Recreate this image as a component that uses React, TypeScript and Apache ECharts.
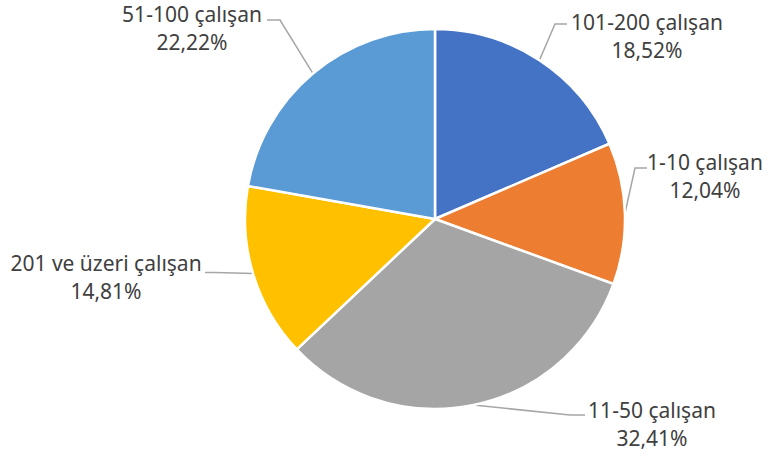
import React, { useEffect, useRef } from "react";
import * as echarts from "echarts";

const categories = ["101-200 çalışan", "1-10 çalışan", "11-50 çalışan", "201 ve üzeri çalışan", "51-100 çalışan"];
const values = [20, 13, 35, 16, 24];
const colors = ["#4472C4", "#ED7D31", "#A5A5A5", "#FFC000", "#5B9BD5"];

// label layout (block centres) and leader line bends, in px
const labelCenters = [
  [647, 36],
  [705, 176],
  [652, 424],
  [106, 277],
  [192, 28],
];
const leaderBends = [
  [[555, 24], [567, 24]],
  [[635, 168], [647, 168]],
  [[570, 415], [585, 415]],
  [[215, 272.5], [205, 272.5]],
  [[280, 20], [267, 20]],
];

const CX = 435;
const CY = 219;
const R = 190;

export default function App() {
  const ref = useRef<HTMLDivElement>(null);
  useEffect(() => {
    document.body.style.margin = "0";
    if (!ref.current) return;
    const chart = echarts.init(ref.current, null, { renderer: "svg" });
    const total = values.reduce((a, b) => a + b, 0);
    const cum: number[] = [];
    let acc = 0;
    values.forEach((v) => {
      cum.push(acc + v / 2);
      acc += v;
    });
    chart.setOption({
      animation: false,
      backgroundColor: "#ffffff",
      color: colors,
      series: [
        {
          type: "pie",
          center: [CX, CY],
          radius: R,
          startAngle: 90,
          clockwise: true,
          itemStyle: { borderColor: "#ffffff", borderWidth: 2.5 },
          data: categories.map((c, i) => ({ name: c, value: values[i] })),
          label: {
            show: true,
            position: "outside",
            fontFamily: "Noto Sans",
            fontSize: 21,
            lineHeight: 28,
            color: "#404040",
            align: "center",
            overflow: "none",
            width: 300,
            formatter: (p: any) => `${p.name}\n${p.percent.toFixed(2).replace(".", ",")}%`,
          },
          labelLine: {
            show: true,
            lineStyle: { color: "#A6A6A6", width: 1.5 },
          },
          labelLayout: (params: any) => {
            const i = params.dataIndex;
            const ang = (cum[i] / total) * Math.PI * 2;
            const ex = CX + R * Math.sin(ang);
            const ey = CY - R * Math.cos(ang);
            return {
              x: labelCenters[i][0],
              y: labelCenters[i][1],
              align: "center",
              verticalAlign: "middle",
              labelLinePoints: [[ex, ey], leaderBends[i][0], leaderBends[i][1]],
            };
          },
        },
      ],
    });
    return () => chart.dispose();
  }, []);
  return <div ref={ref} style={{ width: 768, height: 458 }} />;
}
